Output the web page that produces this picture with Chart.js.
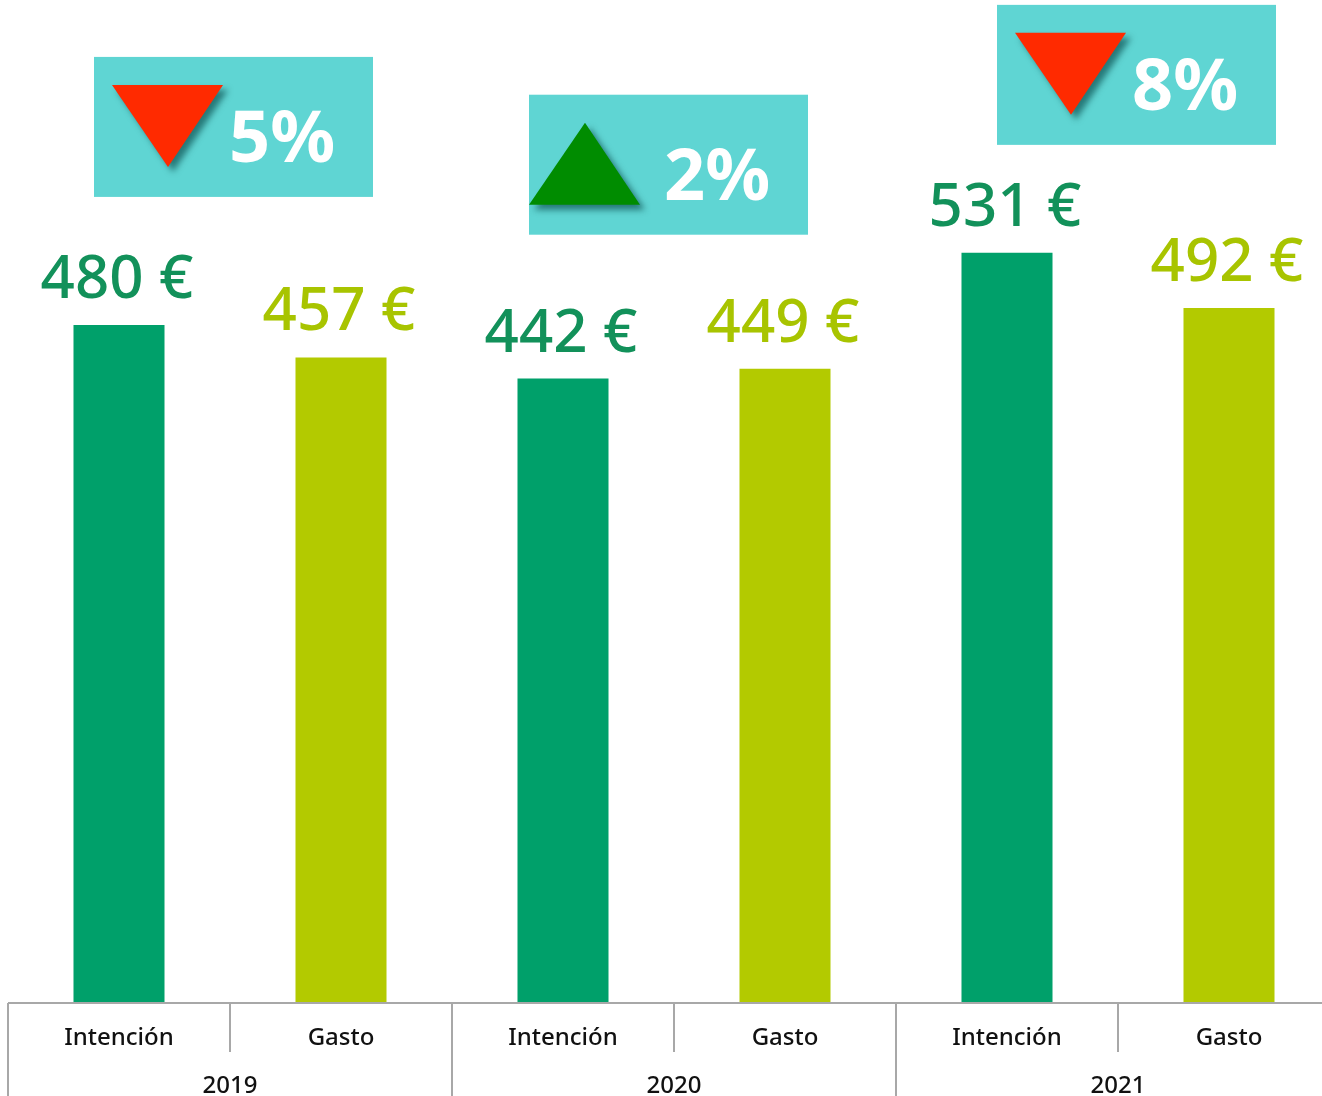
<!DOCTYPE html>
<html>
<head>
<meta charset="utf-8">
<script src="https://cdn.jsdelivr.net/npm/chart.js@4/dist/chart.umd.min.js"></script>
<style>
  html, body { margin: 0; padding: 0; background: #fff; overflow: hidden; }
  #wrap { width: 1322px; height: 1096px; overflow: hidden; }
</style>
</head>
<body>
<div id="wrap"><canvas id="chart" width="1340" height="1096"></canvas></div>
<script>
const years = ["2019", "2020", "2021"]
const subLabels = ["Intención", "Gasto"]
const intencion = [480, 442, 531]
const gasto = [457, 449, 492]
const changes = ["5%", "2%", "8%"]
const trend = ["down", "up", "down"]

const colIntencion = '#00A06A'
const colGasto = '#B3CA00'
const txtIntencion = '#12915A'
const txtGasto = '#A8C400'

// interleave into one dataset: Intención, Gasto per year
const labels = []
const values = []
const colors = []
years.forEach((y, i) => {
    labels.push(subLabels[0] + '|' + y, subLabels[1] + '|' + y)
    values.push(intencion[i], gasto[i])
    colors.push(colIntencion, colGasto)
})

const FONT = "'Noto Sans', sans-serif"

const decorPlugin = {
    id: 'decor',
    afterDatasetsDraw(chart) {
        const ctx = chart.ctx
        const xs = chart.scales.x
        const ys = chart.scales.y
        const area = chart.chartArea
        const meta = chart.getDatasetMeta(0)
        const slot = xs.getPixelForValue(1) - xs.getPixelForValue(0)
        const base = area.bottom

        // value labels
        ctx.save()
        ctx.textAlign = 'center'
        ctx.textBaseline = 'alphabetic'
        ctx.font = "500 60px " + FONT
        meta.data.forEach((bar, i) => {
            ctx.fillStyle = i % 2 === 0 ? txtIntencion : txtGasto
            ctx.fillText(values[i] + ' €', bar.x - 2, bar.y - 27)
        })
        ctx.restore()

        // axis lines
        ctx.save()
        ctx.strokeStyle = '#A8A8A8'
        ctx.lineWidth = 2
        ctx.beginPath()
        ctx.moveTo(area.left, base)
        ctx.lineTo(area.right, base)
        ctx.stroke()
        for (let i = 0; i <= labels.length; i++) {
            const x = Math.round(xs.getPixelForValue(0) - slot / 2 + i * slot)
            ctx.beginPath()
            ctx.moveTo(x, base)
            ctx.lineTo(x, i % 2 === 0 ? chart.height : base + 49)
            ctx.stroke()
        }
        ctx.restore()

        // tick labels
        ctx.save()
        ctx.fillStyle = '#111'
        ctx.textAlign = 'center'
        ctx.font = "500 24px " + FONT
        labels.forEach((l, i) => {
            ctx.fillText(l.split('|')[0], xs.getPixelForValue(i), base + 42)
        })
        years.forEach((y, i) => {
            const cx = (xs.getPixelForValue(i * 2) + xs.getPixelForValue(i * 2 + 1)) / 2
            ctx.fillText(y, cx, base + 90)
        })
        ctx.restore()

        // change boxes
        const boxPos = [{ dx: -136, dy: -268 }, { dx: -145, dy: -274 }, { dx: -121, dy: -248 }]
        years.forEach((y, i) => {
            const cx = (xs.getPixelForValue(i * 2) + xs.getPixelForValue(i * 2 + 1)) / 2
            const top = ys.getPixelForValue(Math.max(intencion[i], gasto[i]))
            const bx = cx + boxPos[i].dx
            const by = top + boxPos[i].dy
            ctx.save()
            ctx.fillStyle = '#5FD5D3'
            ctx.fillRect(bx, by, 279, 140)

            ctx.shadowColor = 'rgba(0,60,60,0.6)'
            ctx.shadowBlur = 6
            ctx.shadowOffsetX = 5
            ctx.shadowOffsetY = 5
            ctx.beginPath()
            if (trend[i] === 'down') {
                ctx.fillStyle = '#FF2A00'
                ctx.moveTo(bx + 18, by + 28)
                ctx.lineTo(bx + 129, by + 28)
                ctx.lineTo(bx + 74, by + 110)
            } else {
                ctx.fillStyle = '#008C00'
                ctx.moveTo(bx + 56, by + 28)
                ctx.lineTo(bx + 111, by + 110)
                ctx.lineTo(bx + 0, by + 110)
            }
            ctx.closePath()
            ctx.fill()
            ctx.restore()

            ctx.save()
            ctx.fillStyle = '#fff'
            ctx.font = "bold 72px " + FONT
            ctx.textAlign = 'left'
            ctx.fillText(changes[i], bx + 135, by + 105)
            ctx.restore()
        })
    }
}

new Chart(document.getElementById('chart'), {
    type: 'bar',
    data: {
        labels,
        datasets: [{
            data: values,
            backgroundColor: colors,
            borderWidth: 0,
            barPercentage: 0.41,
            categoryPercentage: 1
        }]
    },
    options: {
        responsive: false,
        animation: false,
        devicePixelRatio: 1,
        layout: { padding: { left: 8, right: 0, top: 0, bottom: 93 } },
        plugins: { legend: { display: false }, tooltip: { enabled: false } },
        scales: {
            x: { display: false },
            y: { display: false, min: 0, max: 710 }
        }
    },
    plugins: [decorPlugin]
})
</script>
</body>
</html>
